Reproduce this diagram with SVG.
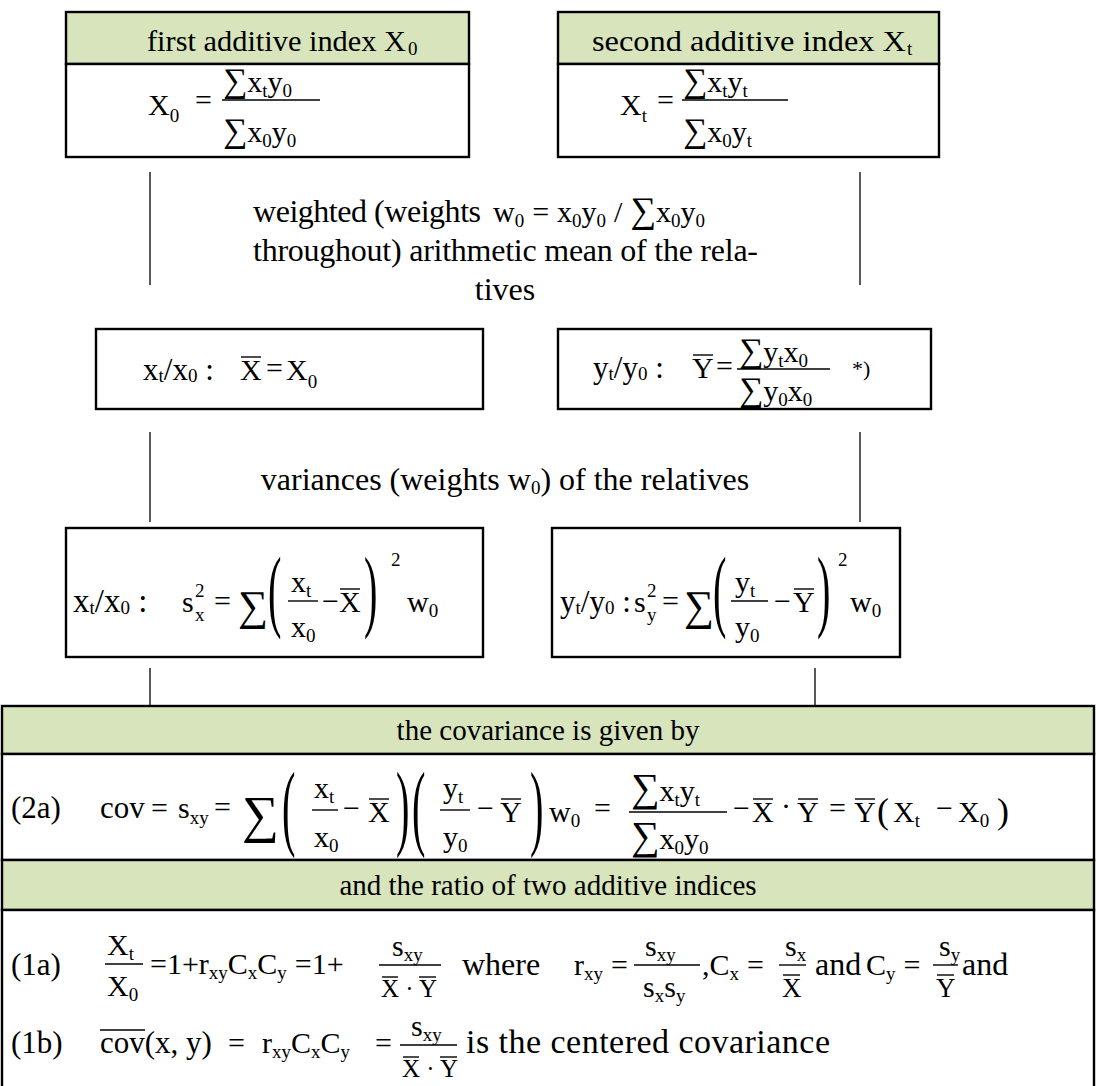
<svg xmlns="http://www.w3.org/2000/svg" width="1096" height="1086" viewBox="0 0 1096 1086">
<style>
text{font-family:"Liberation Serif","Times New Roman",serif;fill:#000;font-size:30px}
.h{font-size:30px}
.p{font-size:32px}
.s{font-size:19px}
.sg{font-size:34px}
.bp{font-size:96px}
.box{fill:#fff;stroke:#000;stroke-width:2.4}
.hd{fill:#D7E4BC;stroke:#000;stroke-width:2.4}
.ln{stroke:#000;stroke-width:1.3;fill:none}
.bar{stroke:#000;stroke-width:1.4;fill:none}
</style>
<rect width="1096" height="1086" fill="#fff"/>

<g id="connectors">
<line class="ln" x1="150" y1="172" x2="150" y2="285"/>
<line class="ln" x1="860" y1="172" x2="860" y2="285"/>
<line class="ln" x1="150" y1="432" x2="150" y2="522"/>
<line class="ln" x1="860" y1="432" x2="860" y2="522"/>
<line class="ln" x1="150" y1="668" x2="150" y2="705"/>
<line class="ln" x1="815" y1="668" x2="815" y2="705"/>
</g>

<g id="label-mean">
<text class="p" x="253" y="222" textLength="228">weighted (weights</text>
<text x="493" y="222">w<tspan class="s" dy="5">0</tspan><tspan dy="-5" dx="8">=</tspan><tspan dx="8">x</tspan><tspan class="s" dy="5">0</tspan><tspan dy="-5">y</tspan><tspan class="s" dy="5">0</tspan><tspan dy="-5" dx="8">/</tspan><tspan dx="8" style="font-size:36px">∑</tspan><tspan>x</tspan><tspan class="s" dy="5">0</tspan><tspan dy="-5">y</tspan><tspan class="s" dy="5">0</tspan></text>
<text class="p" x="253" y="261" textLength="505">throughout) arithmetic mean of the rela-</text>
<text class="p" x="505" y="300" text-anchor="middle">tives</text>
</g>

<g id="label-variance">
<text class="p" x="505" y="490" text-anchor="middle">variances (weights w<tspan class="s" dy="4">0</tspan><tspan dy="-4">) of the relatives</tspan></text>
</g>

<g id="node-first-index">
<rect class="hd" x="66" y="12" width="403" height="52"/>
<rect class="box" x="66" y="64" width="403" height="93"/>
<text class="h" x="147" y="51" textLength="259" lengthAdjust="spacingAndGlyphs">first additive index X</text>
<text class="s" x="408" y="55">0</text>
<text x="148" y="115">X<tspan class="s" dy="7">0</tspan></text>
<text x="195" y="110">=</text>
<line class="bar" x1="222" y1="100" x2="320" y2="100"/>
<text x="223" y="92"><tspan class="sg">∑</tspan>x<tspan class="s" dy="5">t</tspan><tspan dy="-5">y</tspan><tspan class="s" dy="5">0</tspan></text>
<text x="223" y="142"><tspan class="sg">∑</tspan>x<tspan class="s" dy="5">0</tspan><tspan dy="-5">y</tspan><tspan class="s" dy="5">0</tspan></text>
</g>

<g id="node-second-index">
<rect class="hd" x="558" y="12" width="381" height="52"/>
<rect class="box" x="558" y="64" width="381" height="93"/>
<text class="h" x="592" y="51" textLength="314" lengthAdjust="spacingAndGlyphs">second additive index X</text>
<text class="s" x="907" y="55">t</text>
<text x="620" y="115">X<tspan class="s" dy="7">t</tspan></text>
<text x="657" y="110">=</text>
<line class="bar" x1="682" y1="100" x2="788" y2="100"/>
<text x="683" y="92"><tspan class="sg">∑</tspan>x<tspan class="s" dy="5">t</tspan><tspan dy="-5">y</tspan><tspan class="s" dy="5">t</tspan></text>
<text x="683" y="142"><tspan class="sg">∑</tspan>x<tspan class="s" dy="5">0</tspan><tspan dy="-5">y</tspan><tspan class="s" dy="5">t</tspan></text>
</g>

<g id="node-mean-x">
<rect class="box" x="96" y="329" width="387" height="80"/>
<text x="143" y="380" style="font-size:31px">x<tspan class="s" dy="2">t</tspan><tspan dy="-2">/x</tspan><tspan class="s" dy="2">0</tspan><tspan dy="-2"> :</tspan></text>
<text x="240" y="380">X</text>
<line class="bar" x1="241" y1="357" x2="261" y2="357"/>
<text x="266" y="378">=</text>
<text x="286" y="380">X<tspan class="s" dy="8">0</tspan></text>
</g>

<g id="node-mean-y">
<rect class="box" x="558" y="329" width="373" height="80"/>
<text x="593" y="378" style="font-size:31px">y<tspan class="s" dy="2">t</tspan><tspan dy="-2">/y</tspan><tspan class="s" dy="2">0</tspan><tspan dy="-2"> :</tspan></text>
<text x="692" y="378">Y</text>
<line class="bar" x1="693" y1="355" x2="713" y2="355"/>
<text x="716" y="376">=</text>
<line class="bar" x1="737" y1="369" x2="830" y2="369"/>
<text x="739" y="362"><tspan class="sg">∑</tspan>y<tspan class="s" dy="5">t</tspan><tspan dy="-5">x</tspan><tspan class="s" dy="5">0</tspan></text>
<text x="739" y="401"><tspan class="sg">∑</tspan>y<tspan class="s" dy="5">0</tspan><tspan dy="-5">x</tspan><tspan class="s" dy="5">0</tspan></text>
<text x="852" y="376" style="font-size:22px">*)</text>
</g>

<g id="node-var-x">
<rect class="box" x="66" y="528" width="417" height="129"/>
<text x="73" y="612" style="font-size:33px">x<tspan class="s" dy="2">t</tspan><tspan dy="-2">/x</tspan><tspan class="s" dy="2">0</tspan><tspan dy="-2"> :</tspan></text>
<text x="182" y="612">s</text>
<text class="s" x="195" y="597">2</text>
<text class="s" x="195" y="621">x</text>
<text x="214" y="611">=</text>
<text x="238" y="620" style="font-size:42px">∑</text>
<text class="bp" transform="translate(268,620) scale(0.42,0.95)">(</text>
<line class="bar" x1="288" y1="601" x2="318" y2="601"/>
<text x="291" y="592">x<tspan class="s" dy="5">t</tspan></text>
<text x="291" y="637">x<tspan class="s" dy="5">0</tspan></text>
<text x="322" y="611">−</text>
<text x="339" y="612">X</text>
<line class="bar" x1="340" y1="589" x2="360" y2="589"/>
<text class="bp" transform="translate(364,620) scale(0.42,0.95)">)</text>
<text class="s" x="391" y="566">2</text>
<text x="407" y="612">w<tspan class="s" dy="5">0</tspan></text>
</g>

<g id="node-var-y">
<rect class="box" x="552" y="528" width="348" height="129"/>
<text x="560" y="612" style="font-size:31px">y<tspan class="s" dy="2">t</tspan><tspan dy="-2">/y</tspan><tspan class="s" dy="2">0</tspan><tspan dy="-2"> :</tspan></text>
<text x="634" y="612">s</text>
<text class="s" x="647" y="597">2</text>
<text class="s" x="647" y="621">y</text>
<text x="662" y="611">=</text>
<text x="684" y="620" style="font-size:42px">∑</text>
<text class="bp" transform="translate(713,620) scale(0.42,0.95)">(</text>
<line class="bar" x1="731" y1="601" x2="768" y2="601"/>
<text x="735" y="592">y<tspan class="s" dy="5">t</tspan></text>
<text x="735" y="637">y<tspan class="s" dy="5">0</tspan></text>
<text x="774" y="611">−</text>
<text x="793" y="612">Y</text>
<line class="bar" x1="794" y1="589" x2="814" y2="589"/>
<text class="bp" transform="translate(817,620) scale(0.42,0.95)">)</text>
<text class="s" x="838" y="566">2</text>
<text x="850" y="612">w<tspan class="s" dy="5">0</tspan></text>
</g>

<g id="node-covariance">
<rect class="hd" x="2" y="706" width="1092" height="48"/>
<rect class="box" x="2" y="754" width="1092" height="106"/>
<text class="h" x="548" y="740" text-anchor="middle" style="font-size:29px">the covariance is given by</text>
<text x="11" y="818" style="font-size:31px">(2a)</text>
<text x="100" y="818" style="font-size:31px">cov</text>
<text x="151" y="818">=</text>
<text x="178" y="818">s<tspan class="s" dy="6">xy</tspan></text>
<text x="214" y="817">=</text>
<text x="242" y="832" style="font-size:52px">∑</text>
<text class="bp" transform="translate(282,838) scale(0.42,1)">(</text>
<line class="bar" x1="312" y1="810" x2="338" y2="810"/>
<text x="314" y="798">x<tspan class="s" dy="5">t</tspan></text>
<text x="314" y="847">x<tspan class="s" dy="5">0</tspan></text>
<text x="343" y="818">−</text>
<text x="368" y="822">X</text>
<line class="bar" x1="369" y1="799" x2="389" y2="799"/>
<text class="bp" transform="translate(396,838) scale(0.42,1)">)</text>
<text class="bp" transform="translate(412,838) scale(0.42,1)">(</text>
<line class="bar" x1="440" y1="810" x2="470" y2="810"/>
<text x="443" y="798">y<tspan class="s" dy="5">t</tspan></text>
<text x="443" y="847">y<tspan class="s" dy="5">0</tspan></text>
<text x="477" y="818">−</text>
<text x="500" y="822">Y</text>
<line class="bar" x1="501" y1="799" x2="521" y2="799"/>
<text class="bp" transform="translate(530,838) scale(0.42,1)">)</text>
<text x="549" y="822">w<tspan class="s" dy="5">0</tspan></text>
<text x="594" y="818">=</text>
<line class="bar" x1="629" y1="812" x2="727" y2="812"/>
<text x="631" y="801"><tspan style="font-size:40px">∑</tspan>x<tspan class="s" dy="5">t</tspan><tspan dy="-5">y</tspan><tspan class="s" dy="5">t</tspan></text>
<text x="631" y="849"><tspan style="font-size:40px">∑</tspan>x<tspan class="s" dy="5">0</tspan><tspan dy="-5">y</tspan><tspan class="s" dy="5">0</tspan></text>
<text x="733" y="818">−</text>
<text x="752" y="822">X</text>
<line class="bar" x1="753" y1="799" x2="773" y2="799"/>
<text x="781" y="816">·</text>
<text x="797" y="822">Y</text>
<line class="bar" x1="798" y1="799" x2="818" y2="799"/>
<text x="829" y="818">=</text>
<text x="854" y="822">Y</text>
<line class="bar" x1="855" y1="799" x2="875" y2="799"/>
<text x="877" y="823" style="font-size:36px">(</text>
<text x="893" y="822">X<tspan class="s" dy="5">t</tspan></text>
<text x="936" y="818">−</text>
<text x="958" y="822">X<tspan class="s" dy="5">0</tspan></text>
<text x="997" y="823" style="font-size:36px">)</text>
</g>

<g id="node-ratio">
<rect class="hd" x="2" y="860" width="1092" height="50"/>
<rect class="box" x="2" y="910" width="1092" height="190"/>
<text class="h" x="548" y="895" text-anchor="middle" style="font-size:29px">and the ratio of two additive indices</text>
<text x="11" y="975" style="font-size:31px">(1a)</text>
<line class="bar" x1="105" y1="964" x2="143" y2="964"/>
<text x="107" y="955">X<tspan class="s" dy="5">t</tspan></text>
<text x="107" y="996">X<tspan class="s" dy="5">0</tspan></text>
<text x="150" y="974">=1+r<tspan class="s" dy="5">xy</tspan><tspan dy="-5">C</tspan><tspan class="s" dy="5">x</tspan><tspan dy="-5">C</tspan><tspan class="s" dy="5">y</tspan><tspan dy="-5" dx="8">=1+</tspan></text>
<line class="bar" x1="379" y1="965" x2="441" y2="965"/>
<text x="392" y="956">s<tspan class="s" dy="5">xy</tspan></text>
<text x="381" y="997" style="font-size:25px">X · Y</text>
<line class="bar" x1="382" y1="977" x2="398" y2="977"/>
<line class="bar" x1="419" y1="977" x2="436" y2="977"/>
<text x="462" y="975" style="font-size:32px">where</text>
<text x="574" y="975">r<tspan class="s" dy="5">xy</tspan><tspan dy="-5" dx="8">=</tspan></text>
<line class="bar" x1="634" y1="965" x2="700" y2="965"/>
<text x="645" y="956">s<tspan class="s" dy="5">xy</tspan></text>
<text x="643" y="997">s<tspan class="s" dy="5">x</tspan><tspan dy="-5">s</tspan><tspan class="s" dy="5">y</tspan></text>
<text x="702" y="975">,C<tspan class="s" dy="5">x</tspan><tspan dy="-5" dx="8">=</tspan></text>
<line class="bar" x1="779" y1="965" x2="806" y2="965"/>
<text x="785" y="956">s<tspan class="s" dy="5">x</tspan></text>
<text x="782" y="997" style="font-size:27px">X</text>
<line class="bar" x1="783" y1="975" x2="800" y2="975"/>
<text x="815" y="975" style="font-size:32px">and</text>
<text x="866" y="975">C<tspan class="s" dy="5">y</tspan><tspan dy="-5" dx="8">=</tspan></text>
<line class="bar" x1="933" y1="965" x2="958" y2="965"/>
<text x="939" y="956">s<tspan class="s" dy="5">y</tspan></text>
<text x="936" y="997" style="font-size:27px">Y</text>
<line class="bar" x1="937" y1="975" x2="954" y2="975"/>
<text x="962" y="975" style="font-size:32px">and</text>
<text x="11" y="1053" style="font-size:31px">(1b)</text>
<text x="100" y="1053" style="font-size:31px">cov(x, y)</text>
<line class="bar" x1="100" y1="1030" x2="145" y2="1030"/>
<text x="228" y="1053">=</text>
<text x="262" y="1053">r<tspan class="s" dy="5">xy</tspan><tspan dy="-5">C</tspan><tspan class="s" dy="5">x</tspan><tspan dy="-5">C</tspan><tspan class="s" dy="5">y</tspan></text>
<text x="375" y="1053">=</text>
<line class="bar" x1="400" y1="1045" x2="457" y2="1045"/>
<text x="411" y="1036">s<tspan class="s" dy="5">xy</tspan></text>
<text x="402" y="1077" style="font-size:25px">X · Y</text>
<line class="bar" x1="403" y1="1057" x2="419" y2="1057"/>
<line class="bar" x1="440" y1="1057" x2="457" y2="1057"/>
<text x="466" y="1053" style="font-size:34px" textLength="364">is the centered covariance</text>
</g>
</svg>
